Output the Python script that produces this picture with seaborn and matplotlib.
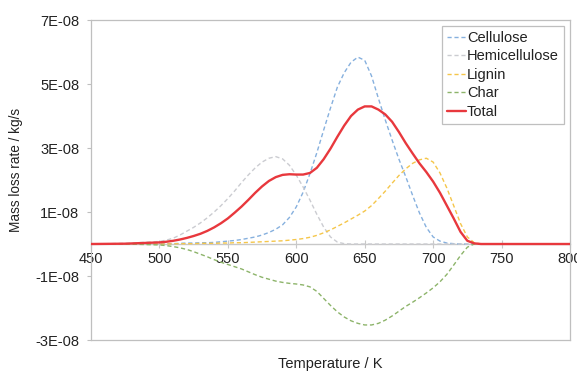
import numpy as np
import pandas as pd
import matplotlib
matplotlib.use("Agg")
import matplotlib.pyplot as plt
import seaborn as sns
from matplotlib.ticker import FuncFormatter

SCALE = 1e-8

temperature = [450, 475, 500, 505, 510, 515, 520, 525, 530, 535, 540, 545, 550, 555,
               560, 565, 570, 575, 580, 585, 590, 595, 600, 605, 610, 615, 620, 625,
               630, 635, 640, 645, 650, 655, 660, 665, 670, 675, 680, 685, 690, 695,
               700, 705, 710, 715, 720, 725, 730, 735, 740, 760, 780, 800]

cellulose = [0, 0, 0.00, 0.01, 0.01, 0.02, 0.03, 0.03, 0.04, 0.04, 0.05, 0.07, 0.09, 0.11,
             0.14, 0.18, 0.22, 0.28, 0.36, 0.46, 0.60, 0.83, 1.16, 1.62, 2.20, 2.85, 3.56, 4.25,
             4.90, 5.35, 5.68, 5.84, 5.74, 5.25, 4.55, 3.88, 3.25, 2.65, 2.10, 1.52, 0.97, 0.52,
             0.22, 0.09, 0.03, 0.01, 0, 0, 0, 0, 0, 0, 0, 0]

hemicellulose = [0, 0.02, 0.08, 0.12, 0.18, 0.28, 0.40, 0.52, 0.66, 0.82, 1.00, 1.20, 1.42, 1.66,
                 1.92, 2.16, 2.38, 2.56, 2.68, 2.73, 2.66, 2.46, 2.15, 1.78, 1.37, 0.93, 0.53, 0.22,
                 0.06, 0.01, 0, 0, 0, 0, 0, 0, 0, 0, 0, 0, 0, 0,
                 0, 0, 0, 0, 0, 0, 0, 0, 0, 0, 0, 0]

lignin = [0, 0, 0, 0, 0.005, 0.01, 0.01, 0.01, 0.02, 0.02, 0.02, 0.03, 0.03, 0.04,
          0.04, 0.05, 0.06, 0.07, 0.08, 0.09, 0.10, 0.12, 0.14, 0.17, 0.21, 0.27, 0.35, 0.44,
          0.55, 0.66, 0.78, 0.90, 1.03, 1.20, 1.42, 1.65, 1.90, 2.14, 2.35, 2.52, 2.63, 2.68,
          2.56, 2.22, 1.75, 1.20, 0.64, 0.22, 0.04, 0, 0, 0, 0, 0]

char = [0, 0, -0.03, -0.05, -0.08, -0.12, -0.17, -0.24, -0.32, -0.40, -0.49, -0.57, -0.64, -0.71,
        -0.78, -0.87, -0.96, -1.04, -1.10, -1.16, -1.20, -1.23, -1.25, -1.28, -1.34, -1.48, -1.70, -1.92,
        -2.12, -2.28, -2.40, -2.48, -2.53, -2.53, -2.48, -2.38, -2.25, -2.10, -1.95, -1.82, -1.68, -1.53,
        -1.37, -1.18, -0.95, -0.66, -0.36, -0.10, 0, 0, 0, 0, 0, 0]

total = [0, 0.01, 0.05, 0.07, 0.10, 0.14, 0.19, 0.25, 0.32, 0.41, 0.52, 0.65, 0.80, 0.98,
         1.17, 1.38, 1.60, 1.80, 1.97, 2.09, 2.16, 2.18, 2.17, 2.17, 2.22, 2.38, 2.65, 2.98,
         3.35, 3.70, 4.00, 4.20, 4.30, 4.30, 4.20, 4.05, 3.82, 3.50, 3.15, 2.83, 2.52, 2.25,
         1.95, 1.60, 1.20, 0.80, 0.38, 0.10, 0.02, 0, 0, 0, 0, 0]

series_names = ["Cellulose", "Hemicellulose", "Lignin", "Char", "Total"]
series_values = [cellulose, hemicellulose, lignin, char, total]
colors = ["#86b0de", "#cbccd1", "#f5c64a", "#8db46a", "#e8383d"]

x_ticks = [450, 500, 550, 600, 650, 700, 750, 800]
y_ticks = [-3e-8, -1e-8, 1e-8, 3e-8, 5e-8, 7e-8]

sns.set_style("white")
plt.rcParams["font.family"] = ["Liberation Sans", "DejaVu Sans"]
plt.rcParams["font.size"] = 10.5

fig = plt.figure(figsize=(5.77, 3.72), dpi=100)
ax = fig.add_axes([91 / 577, 1 - 340 / 372, 479 / 577, 320 / 372])

grey = "#bfbfbf"
for name, vals, col in zip(series_names, series_values, colors):
    df = pd.DataFrame({"T": temperature, "v": np.array(vals) * SCALE})
    if name == "Total":
        sns.lineplot(data=df, x="T", y="v", ax=ax, color=col, lw=1.7, label=name, zorder=5)
    else:
        sns.lineplot(data=df, x="T", y="v", ax=ax, color=col, lw=1.0, label=name,
                     dashes=False, zorder=3)
        ax.lines[-1].set_dashes((3, 2))

ax.set_xlim(450, 800)
ax.set_ylim(-3e-8, 7e-8)
ax.set_yticks(y_ticks)
ax.yaxis.set_major_formatter(FuncFormatter(lambda v, p: f"{v:.0E}"))
ax.tick_params(axis="y", which="both", left=True, length=3, width=0.8, color=grey,
               labelsize=10.5, labelcolor="#222222", pad=5.5)
ax.tick_params(axis="x", bottom=False, labelbottom=False)
for sp in ax.spines.values():
    sp.set_color(grey)
    sp.set_linewidth(0.9)

# category axis crossing at zero
zero_frac = (0 - (-3e-8)) / (7e-8 - (-3e-8))
sec = ax.secondary_xaxis(zero_frac)
sec.set_xticks(x_ticks)
sec.spines["bottom"].set_color("#c8c8c8")
sec.spines["bottom"].set_linewidth(1.0)
sec.tick_params(axis="x", direction="inout", length=6, width=0.8, color="#c8c8c8",
                labelsize=10.5, labelcolor="#222222", pad=3)
sec.set_zorder(1)

ax.set_xlabel("Temperature / K", fontsize=10.5, color="#222222", labelpad=12)
ax.set_ylabel("Mass loss rate / kg/s", fontsize=9.8, color="#222222")
ax.yaxis.set_label_coords(-0.142, 0.53)

leg = ax.legend(loc="upper right", bbox_to_anchor=((564 - 91) / 479, 1 - (26 - 20) / 320),
                borderaxespad=0, frameon=True, fancybox=False, framealpha=1,
                edgecolor=grey, fontsize=10.5, handlelength=1.3, handletextpad=0.1,
                labelspacing=0.3, borderpad=0.35)
leg.get_frame().set_linewidth(0.9)
for t in leg.get_texts():
    t.set_color("#222222")

fig.savefig("out.png", dpi=100)
